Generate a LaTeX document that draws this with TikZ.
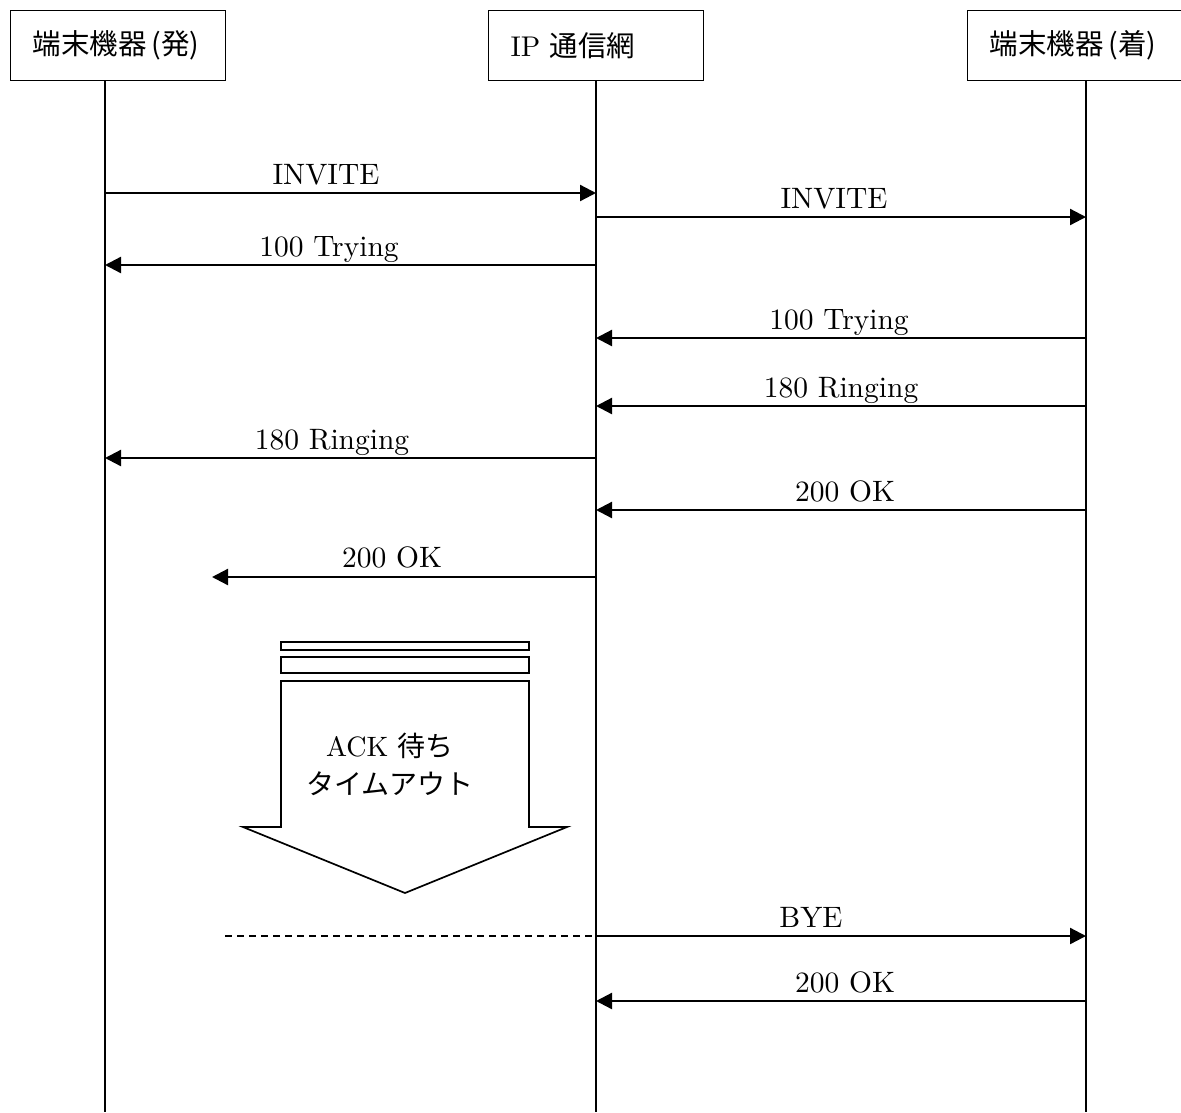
\documentclass[tikz,border=0pt]{standalone}
\usepackage{fontspec}
\setmainfont{lmroman10-regular.otf}
\newfontfamily\cjk{Noto Sans CJK JP}
\usetikzlibrary{arrows.meta}
\begin{document}
\begin{tikzpicture}[x=1pt,y=-1pt,
  hdr/.style={draw,line width=1.4pt,minimum width=215pt,minimum height=70pt,anchor=north west,
    inner xsep=22pt,inner ysep=0pt,text width=171pt,align=left,font=\fontsize{28.5}{32}\selectfont},
  life/.style={line width=1.4pt},
  msg/.style={line width=2.3pt,-{Triangle[length=16pt,width=16pt]}},
  lbl/.style={font=\fontsize{29.5}{34}\selectfont,inner sep=0pt,anchor=base},
  blk/.style={draw,line width=1.7pt,fill=white},
  note/.style={font=\fontsize{28}{38}\selectfont,align=center,inner sep=0pt}]
\useasboundingbox (0,0) rectangle (1181,1112);
% headers
\node[hdr] (hL) at (10,10) {\cjk 端末機器\,(発)};
\node[hdr] (hM) at (488,10) {IP \cjk 通信網};
\node[hdr] (hR) at (967,10) {\cjk 端末機器\,(着)};
% lifelines
\coordinate (L) at (105,1112);
\coordinate (M) at (596,1112);
\coordinate (R) at (1086,1112);
\draw[life] (hL.south -| L) -- (L);
\draw[life] (hM.south -| M) -- (M);
\draw[life] (hR.south -| R) -- (R);
% messages
\draw[msg] (L |- 0,193) -- (M |- 0,193);
\node[lbl] (t1) at (326,184) {INVITE};
\draw[msg] (M |- 0,217) -- (R |- 0,217);
\node[lbl] (t2) at (834,208) {INVITE};
\draw[msg] (M |- 0,265) -- (L |- 0,265);
\node[lbl] (t3) at (329,256) {100 Trying};
\draw[msg] (R |- 0,338) -- (M |- 0,338);
\node[lbl] (t4) at (839,329) {100 Trying};
\draw[msg] (R |- 0,406) -- (M |- 0,406);
\node[lbl] (t5) at (841,397) {180 Ringing};
\draw[msg] (M |- 0,458) -- (L |- 0,458);
\node[lbl] (t6) at (332,449) {180 Ringing};
\draw[msg] (R |- 0,510) -- (M |- 0,510);
\node[lbl] (t7) at (845,501) {200 OK};
\coordinate (lost) at (212,577);
\draw[msg] (M |- lost) -- (lost);
\node[lbl] (t8) at (392,567) {200 OK};
% timeout block arrow
\draw[blk,line width=1.4pt] (281,642) rectangle (529,650);
\draw[blk,line width=1.4pt] (281,657) rectangle (529,673);
\draw[blk] (281,681) -- (281,827) -- (243,827) -- (405,893) -- (567,827) -- (529,827) -- (529,681) -- cycle;
\node[note] (to) at (390,764) {ACK \cjk 待ち\\\cjk タイムアウト};
% BYE
\coordinate (d0) at (225,936);
\draw[line width=1.6pt,dash pattern=on 7pt off 5pt] (d0) -- (M |- d0);
\draw[msg] (M |- 0,936) -- (R |- 0,936);
\node[lbl] (t9) at (811,927) {BYE};
\draw[msg] (R |- 0,1001) -- (M |- 0,1001);
\node[lbl] (t10) at (845,992) {200 OK};
\end{tikzpicture}
\end{document}
